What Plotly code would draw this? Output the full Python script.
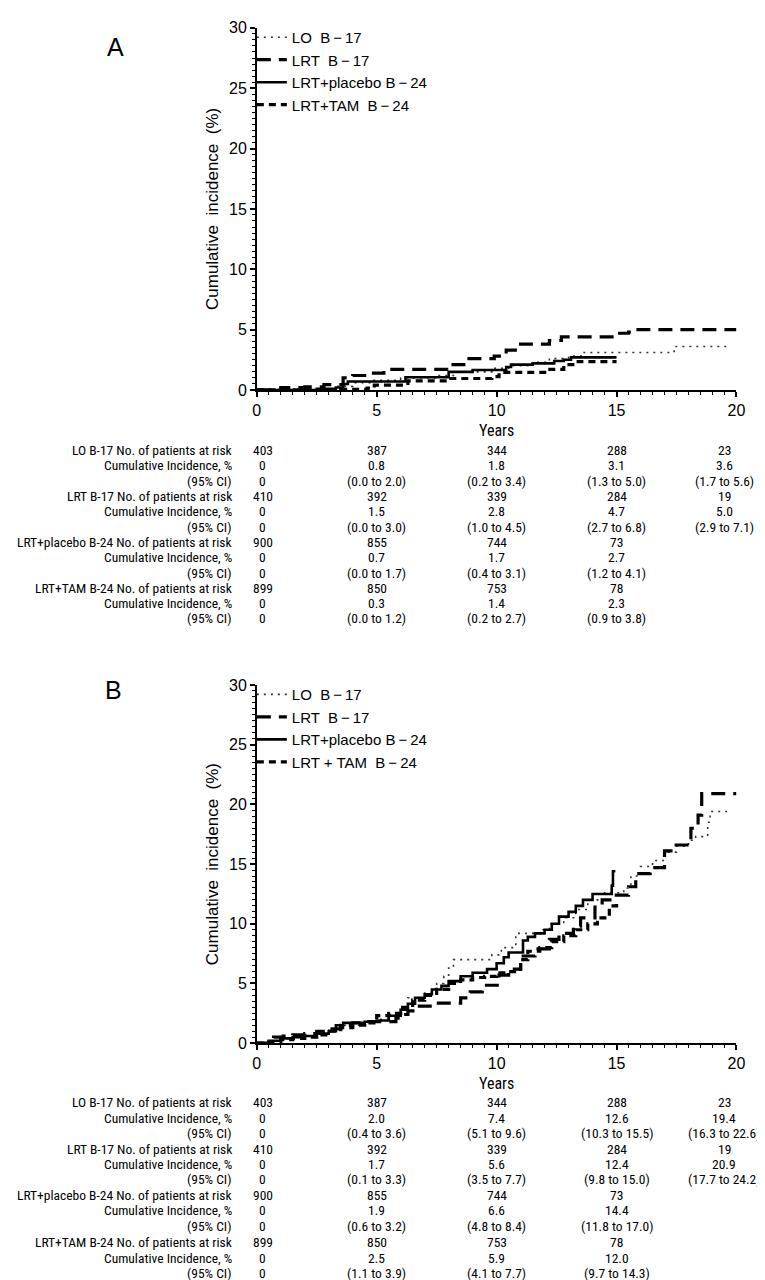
import plotly.graph_objects as go

W, H = 765, 1280

# ---------------- data ----------------
col_years = [0, 5, 10, 15, 20]
groups = ["LO B-17", "LRT B-17", "LRT+placebo B-24", "LRT+TAM B-24"]
row_kinds = ["No. of patients at risk", "Cumulative Incidence, %", "(95% CI)"]

at_risk = {
    "LO B-17": [403, 387, 344, 288, 23],
    "LRT B-17": [410, 392, 339, 284, 19],
    "LRT+placebo B-24": [900, 855, 744, 73],
    "LRT+TAM B-24": [899, 850, 753, 78],
}

A_cum = {
    "LO B-17": [0, 0.8, 1.8, 3.1, 3.6],
    "LRT B-17": [0, 1.5, 2.8, 4.7, 5.0],
    "LRT+placebo B-24": [0, 0.7, 1.7, 2.7],
    "LRT+TAM B-24": [0, 0.3, 1.4, 2.3],
}
A_ci = {
    "LO B-17": ["0", "(0.0 to 2.0)", "(0.2 to 3.4)", "(1.3 to 5.0)", "(1.7 to 5.6)"],
    "LRT B-17": ["0", "(0.0 to 3.0)", "(1.0 to 4.5)", "(2.7 to 6.8)", "(2.9 to 7.1)"],
    "LRT+placebo B-24": ["0", "(0.0 to 1.7)", "(0.4 to 3.1)", "(1.2 to 4.1)"],
    "LRT+TAM B-24": ["0", "(0.0 to 1.2)", "(0.2 to 2.7)", "(0.9 to 3.8)"],
}
B_cum = {
    "LO B-17": [0, 2.0, 7.4, 12.6, 19.4],
    "LRT B-17": [0, 1.7, 5.6, 12.4, 20.9],
    "LRT+placebo B-24": [0, 1.9, 6.6, 14.4],
    "LRT+TAM B-24": [0, 2.5, 5.9, 12.0],
}
B_ci = {
    "LO B-17": ["0", "(0.4 to 3.6)", "(5.1 to 9.6)", "(10.3 to 15.5)", "(16.3 to 22.6)"],
    "LRT B-17": ["0", "(0.1 to 3.3)", "(3.5 to 7.7)", "(9.8 to 15.0)", "(17.7 to 24.2)"],
    "LRT+placebo B-24": ["0", "(0.6 to 3.2)", "(4.8 to 8.4)", "(11.8 to 17.0)"],
    "LRT+TAM B-24": ["0", "(1.1 to 3.9)", "(4.1 to 7.7)", "(9.7 to 14.3)"],
}

# Panel A step curves (years, cumulative incidence %)
A_LO_t = [0, 2.5, 3.3, 4.0, 4.8, 6.0, 7.5, 8.2, 9.8, 10.5, 11.5, 12.2, 13.0, 13.6, 17.4, 19.6]
A_LO_v = [0, 0.1, 0.3, 0.6, 0.8, 1.0, 1.2, 1.5, 1.8, 2.0, 2.3, 2.6, 2.8, 3.1, 3.6, 3.6]
A_LRT_t = [0, 1.0, 2.0, 2.8, 3.6, 4.0, 4.6, 5.3, 8.0, 8.7, 9.9, 10.4, 11.0, 12.2, 12.7, 14.9, 15.5, 15.8, 20.0]
A_LRT_v = [0, 0.2, 0.25, 0.45, 1.0, 1.2, 1.4, 1.7, 2.1, 2.6, 2.8, 3.3, 3.8, 4.1, 4.4, 4.7, 4.8, 5.0, 5.0]
A_PL_t = [0, 2.5, 3.3, 3.6, 3.8, 6.2, 8.0, 9.0, 10.4, 10.6, 11.5, 12.4, 12.8, 13.1, 15.0]
A_PL_v = [0, 0.1, 0.2, 0.5, 0.7, 1.05, 1.5, 1.65, 1.9, 2.1, 2.2, 2.4, 2.5, 2.7, 2.7]
A_TAM_t = [0, 3.5, 4.6, 4.9, 6.3, 8.0, 9.8, 10.1, 12.1, 12.8, 13.4, 15.0]
A_TAM_v = [0, 0.05, 0.15, 0.4, 0.75, 0.95, 1.1, 1.45, 1.7, 2.1, 2.35, 2.35]

# Panel B step curves
B_LO_t = [0, 0.5, 1.0, 1.5, 2.0, 2.5, 3.0, 3.5, 4.5, 5.0, 5.5, 6.0, 6.3, 7.0, 7.5, 7.8, 8.0, 8.2,
          9.8, 10.2, 10.8, 11.8, 12.2, 12.8, 13.3, 13.8, 14.5, 15.3, 15.6, 16.0, 16.5, 17.0, 17.5,
          18.0, 18.3, 18.8, 18.9, 19.7]
B_LO_v = [0, 0.2, 0.4, 0.5, 0.6, 0.9, 1.2, 1.5, 1.8, 2.0, 2.4, 3.0, 3.8, 4.2, 5.0, 5.6, 6.3, 7.0,
          7.4, 8.0, 9.2, 9.5, 10.0, 10.5, 11.2, 12.0, 12.6, 13.0, 14.0, 14.8, 15.3, 16.0, 16.5,
          17.0, 17.3, 18.5, 19.4, 19.4]
B_LRT_t = [0, 0.7, 1.1, 1.5, 2.0, 2.5, 3.0, 3.5, 4.0, 4.5, 5.8, 6.0, 6.3, 6.7, 7.5, 8.5, 8.9, 9.4,
           10.1, 10.5, 11.0, 11.6, 12.2, 12.6, 13.2, 13.5, 14.1, 14.4, 14.8, 15.5, 15.8, 16.4, 17.0,
           17.4, 18.1, 18.4, 18.55, 20.0]
B_LRT_v = [0, 0.5, 0.6, 0.7, 0.8, 1.0, 1.2, 1.5, 1.7, 1.8, 2.1, 2.4, 2.7, 3.1, 3.35, 3.8, 4.3, 4.85,
           5.7, 6.2, 7.3, 7.9, 8.7, 9.2, 9.8, 10.5, 11.4, 12.0, 12.4, 13.1, 14.2, 14.7, 16.1,
           16.6, 18.0, 19.1, 20.9, 20.9]
B_PL_t = [0, 0.5, 1.0, 1.5, 2.0, 2.5, 3.0, 3.3, 3.6, 4.5, 5.0, 5.5, 6.0, 6.3, 6.6, 7.0, 7.3, 7.7,
          8.0, 8.5, 9.0, 9.6, 10.0, 10.3, 10.5, 11.1, 11.3, 11.6, 12.0, 12.3, 12.6, 13.0, 13.3,
          13.6, 14.0, 14.8, 14.85, 14.95]
B_PL_v = [0, 0.2, 0.4, 0.5, 0.6, 0.8, 1.0, 1.5, 1.7, 1.8, 1.9, 2.3, 2.8, 3.3, 3.8, 4.1, 4.5, 4.8,
          5.2, 5.6, 5.9, 6.2, 6.7, 7.2, 7.6, 8.6, 8.9, 9.2, 9.5, 10.0, 10.6, 11.0, 11.5,
          12.0, 12.5, 13.2, 14.4, 14.4]
B_TAM_t = [0, 0.5, 1.0, 1.5, 2.0, 2.5, 3.0, 3.5, 4.0, 4.5, 5.0, 5.5, 6.0, 6.5, 7.0, 7.5, 8.0, 8.5,
           9.0, 9.5, 10.0, 10.5, 11.0, 11.3, 11.8, 12.3, 12.8, 13.3, 13.8, 14.2, 14.7, 15.0]
B_TAM_v = [0, 0.1, 0.3, 0.4, 0.5, 0.7, 1.0, 1.3, 1.5, 1.7, 2.3, 2.5, 3.0, 3.6, 4.0, 4.5, 5.0, 5.3,
           5.5, 5.6, 5.9, 6.0, 7.0, 7.7, 8.0, 8.5, 9.0, 9.5, 10.0, 10.5, 11.5, 12.0]

A_names = ["LO  B\u2009\u2212\u200917", "LRT  B\u2009\u2212\u200917",
           "LRT+placebo B\u2009\u2212\u200924", "LRT+TAM  B\u2009\u2212\u200924"]
B_names = ["LO  B\u2009\u2212\u200917", "LRT  B\u2009\u2212\u200917",
           "LRT+placebo B\u2009\u2212\u200924", "LRT + TAM  B\u2009\u2212\u200924"]

# ---------------- styling ----------------
FONT = "Liberation Sans, Arial, sans-serif"
NARROW = "Roboto Condensed, DejaVu Sans Condensed, Liberation Sans, sans-serif"
TABLE_SIZE = 13.5
styles = [
    dict(color="#333333", width=1.6, dash="2px,5px"),
    dict(color="black", width=3.2, dash="14px,8px"),
    dict(color="black", width=2.6, dash="solid"),
    dict(color="black", width=3.2, dash="7px,5px"),
]

# pixel layout
X0, X1 = 249, 737
A_top, A_bot = 12, 379
B_top, B_bot = 678, 1041
A_rows = [440, 455.5, 471, 486.5, 502, 517.5, 533, 548.5, 564, 579.5, 595, 610.5]
B_rows = [1101, 1116.5, 1132, 1148, 1163.5, 1179, 1195, 1210.5, 1226, 1243, 1258.5, 1274]
col_x = [0.25, 5, 10, 15, 19.5]
label_right = 226


def px_x(p):
    return p / W


def px_y(p):
    return 1 - p / H


fig = go.Figure()

panels = [
    ("x", "y", "legend", A_names,
     [(A_LO_t, A_LO_v), (A_LRT_t, A_LRT_v), (A_PL_t, A_PL_v), (A_TAM_t, A_TAM_v)]),
    ("x2", "y2", "legend2", B_names,
     [(B_LO_t, B_LO_v), (B_LRT_t, B_LRT_v), (B_PL_t, B_PL_v), (B_TAM_t, B_TAM_v)]),
]
for xa, ya, lg, names, curves in panels:
    for i, (t, v) in enumerate(curves):
        fig.add_trace(go.Scatter(
            x=t, y=v, mode="lines", line_shape="hv", line=styles[i],
            name=names[i], xaxis=xa, yaxis=ya, legend=lg,
            legendgroup=f"{lg}{i}", hoverinfo="skip",
        ))

axis_common = dict(
    showline=True, linecolor="black", linewidth=1.5, ticks="outside", ticklen=5,
    tickwidth=1.5, tickcolor="black", showgrid=False, zeroline=False,
    tickfont=dict(family=FONT, size=16, color="black"),
    minor=dict(ticks="outside", ticklen=3, tickwidth=1, tickcolor="black"),
)

ytitle = dict(text="Cumulative  incidence  (%)", font=dict(family=FONT, size=17, color="black"), standoff=6)
xtitle = dict(text="Years", font=dict(family=NARROW, size=16, color="black"), standoff=7)
xdom = [px_x(X0), px_x(X1)]
legend_common = dict(xanchor="left", yanchor="top", bgcolor="rgba(0,0,0,0)",
                     font=dict(family=FONT, size=15, color="black"),
                     tracegroupgap=0, itemwidth=30)
fig.update_layout(
    width=W, height=H, margin=dict(l=0, r=0, t=0, b=0),
    paper_bgcolor="white", plot_bgcolor="white",
    xaxis=dict(domain=xdom, anchor="y", range=[0, 20], dtick=5, **axis_common, title=xtitle),
    yaxis=dict(domain=[px_y(A_bot), px_y(A_top)], anchor="x", range=[0, 30], dtick=5,
               **axis_common, title=ytitle),
    xaxis2=dict(domain=xdom, anchor="y2", range=[0, 20], dtick=5, **axis_common, title=xtitle),
    yaxis2=dict(domain=[px_y(B_bot), px_y(B_top)], anchor="x2", range=[0, 30], dtick=5,
                **axis_common, title=ytitle),
    legend=dict(x=px_x(244), y=px_y(5), **legend_common),
    legend2=dict(x=px_x(244), y=px_y(671), **legend_common),
    showlegend=True,
)
fig.update_xaxes(minor_dtick=0.5)
fig.update_yaxes(minor_dtick=0.5)

# panel letters
fig.add_annotation(text="A", x=px_x(95), y=px_y(15), xref="paper", yref="paper",
                   showarrow=False, font=dict(family=FONT, size=25, color="black"))
fig.add_annotation(text="B", x=px_x(93), y=px_y(683), xref="paper", yref="paper",
                   showarrow=False, font=dict(family=FONT, size=25, color="black"))

# at-risk tables
tables = [("x", A_rows, A_cum, A_ci), ("x2", B_rows, B_cum, B_ci)]
for xref, rows, cum, ci in tables:
    k = 0
    for gi, g in enumerate(groups):
        vals = [
            [str(n) for n in at_risk[g]],
            ["0" if j == 0 else f"{c:.1f}" for j, c in enumerate(cum[g])],
            ci[g],
        ]
        for r, kind in enumerate(row_kinds):
            yy = px_y(rows[k])
            label = f"{g} {kind}" if r == 0 else kind
            fig.add_annotation(text=label, x=px_x(label_right), y=yy, xref="paper", yref="paper",
                               xanchor="right", yanchor="middle", showarrow=False,
                               font=dict(family=NARROW, size=TABLE_SIZE, color="black"))
            for j, s in enumerate(vals[r]):
                fig.add_annotation(text=s, x=col_x[j], y=yy, xref=xref, yref="paper",
                                   xanchor="center", yanchor="middle", showarrow=False,
                                   font=dict(family=NARROW, size=TABLE_SIZE, color="black"))
            k += 1

fig.write_html("out.html")
